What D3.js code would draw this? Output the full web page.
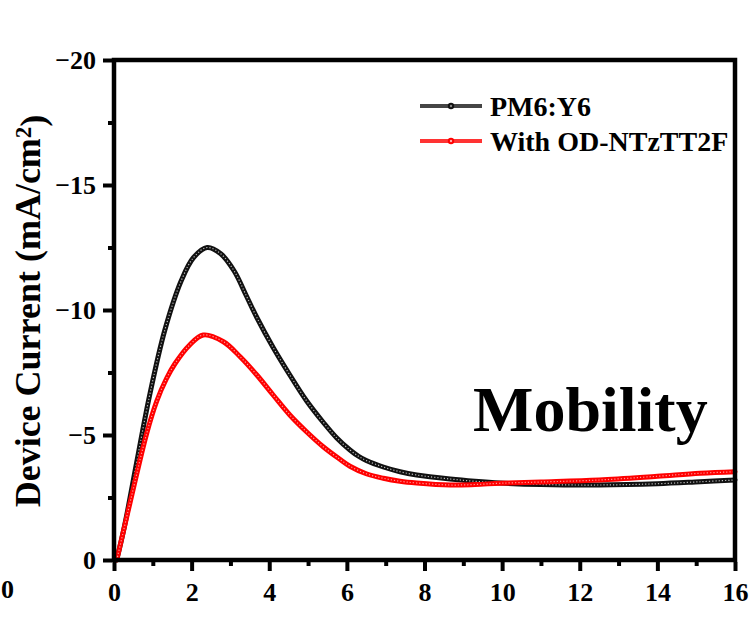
<!DOCTYPE html>
<html>
<head>
<meta charset="utf-8">
<script src="https://cdn.jsdelivr.net/npm/d3@7"></script>
<style>
  html, body { margin: 0; padding: 0; background: #fff; }
  svg { display: block; }
  text { font-family: "Liberation Serif", "Times New Roman", serif; font-weight: bold; fill: #000; }
</style>
</head>
<body>
<svg id="chart" width="749" height="618"></svg>
<script>
// ---- data ----
const seriesNames = ["PM6:Y6", "With OD-NTzTT2F"];
const seriesColors = ["#111111", "#ff0000"];
const legendColors = ["#454545", "#ff3333"];

const voltageA = [0.07, 0.27, 0.58, 0.91, 1.31, 1.74, 2.05, 2.4, 2.75, 3.1, 3.4, 3.68, 4.10, 4.53, 4.96, 5.39, 5.74, 6.08, 6.3, 6.5, 6.94, 7.37, 7.8, 8.66, 9.3, 9.95, 11, 12.5, 14, 15.1, 16];
const currentA = [0, -1.35, -3.87, -6.53, -9.2, -11.2, -12.1, -12.5, -12.25, -11.55, -10.6, -9.7, -8.5, -7.4, -6.37, -5.51, -4.88, -4.4, -4.15, -3.98, -3.72, -3.53, -3.4, -3.24, -3.15, -3.08, -3.02, -3.0, -3.05, -3.13, -3.2];

const voltageB = [0.07, 0.15, 0.46, 0.84, 1.10, 1.35, 1.57, 1.95, 2.3, 2.82, 3.25, 3.68, 4.10, 4.53, 4.96, 5.39, 5.8, 6.08, 6.5, 6.94, 7.37, 7.8, 8.66, 9.3, 9.95, 11, 12.5, 14, 15.1, 16];
const currentB = [0, -0.53, -2.6, -5.05, -6.35, -7.25, -7.85, -8.6, -9.0, -8.73, -8.13, -7.4, -6.6, -5.8, -5.13, -4.53, -4.05, -3.75, -3.45, -3.27, -3.15, -3.08, -3.0, -3.02, -3.07, -3.12, -3.2, -3.35, -3.47, -3.53];

const xTicks = [0, 2, 4, 6, 8, 10, 12, 14, 16];
const xMinorTicks = [1, 3, 5, 7, 9, 11, 13, 15];
const yTicks = [0, -5, -10, -15, -20];
const yMinorTicks = [-2.5, -7.5, -12.5, -17.5];
const yTitle = "Device Current (mA/cm";
const annotation = "Mobility";

// ---- layout ----
const svg = d3.select("#chart");
const L = 114, R = 735, T = 60, B = 560;
const x = d3.scaleLinear().domain([0, 16]).range([L, R]);
const y = d3.scaleLinear().domain([0, -20]).range([B, T]);

const fmt = d => d === 0 ? "0" : "\u2212" + Math.abs(d);

// curves
const series = [
  voltageA.map((v, i) => ({ v, c: currentA[i] })),
  voltageB.map((v, i) => ({ v, c: currentB[i] }))
];
const line = d3.line().x(d => x(d.v)).y(d => y(d.c)).curve(d3.curveCatmullRom.alpha(0.5));
const innerColors = ["#bdbdbd", "#ff9a9a"];
const gCurves = svg.append("g");
series.forEach((s, i) => {
  gCurves.append("path").datum(s).attr("d", line)
    .attr("fill", "none").attr("stroke", seriesColors[i]).attr("stroke-width", 5)
    .attr("stroke-linejoin", "round").attr("stroke-linecap", "round");
  gCurves.append("path").datum(s).attr("d", line)
    .attr("fill", "none").attr("stroke", innerColors[i]).attr("stroke-width", 1.2)
    .attr("stroke-dasharray", "1.2 2");
});

// axes
const tickW = 4;
const yAxis = d3.axisLeft(y).tickValues(yTicks).tickSize(9).tickPadding(7).tickFormat(fmt);
const gy = svg.append("g").attr("transform", `translate(${L - 2},0)`).call(yAxis);
gy.select(".domain").remove();
gy.selectAll(".tick line").attr("stroke", "#000").attr("stroke-width", tickW);
gy.selectAll(".tick text").style("font-size", "26px").style("font-family", "Liberation Serif").style("font-weight", "bold").attr("fill", "#000");
const gym = svg.append("g").attr("transform", `translate(${L - 2},0)`)
  .call(d3.axisLeft(y).tickValues(yMinorTicks).tickSize(4).tickFormat(""));
gym.select(".domain").remove();
gym.selectAll(".tick line").attr("stroke", "#000").attr("stroke-width", tickW);

const xAxis = d3.axisBottom(x).tickValues(xTicks).tickSize(9).tickPadding(12).tickFormat(d3.format("d"));
const gx = svg.append("g").attr("transform", `translate(0,${B + 2})`).call(xAxis);
gx.select(".domain").remove();
gx.selectAll(".tick line").attr("stroke", "#000").attr("stroke-width", tickW);
gx.selectAll(".tick text").style("font-size", "26px").style("font-family", "Liberation Serif").style("font-weight", "bold").attr("fill", "#000");
const gxm = svg.append("g").attr("transform", `translate(0,${B + 2})`)
  .call(d3.axisBottom(x).tickValues(xMinorTicks).tickSize(4).tickFormat(""));
gxm.select(".domain").remove();
gxm.selectAll(".tick line").attr("stroke", "#000").attr("stroke-width", tickW);

// frame
svg.append("rect").attr("x", L).attr("y", T).attr("width", R - L).attr("height", B - T)
  .attr("fill", "none").attr("stroke", "#000").attr("stroke-width", 4.5);

// label from neighbouring panel (partly cut in the reference)
svg.append("text").attr("x", 1).attr("y", 598).attr("text-anchor", "start")
  .style("font-size", "26px").text("0");

// y title
const yt = svg.append("text")
  .attr("transform", "translate(40,311) rotate(-90)")
  .attr("text-anchor", "middle")
  .style("font-size", "36px");
yt.append("tspan").text(yTitle);
yt.append("tspan").attr("dy", "-0.4em").style("font-size", "23px").text("2");
yt.append("tspan").attr("dy", "0.4em").text(")");

// annotation
svg.append("text").attr("x", 473).attr("y", 431).style("font-size", "64px").text(annotation);

// legend
const legY = [106, 141];
seriesNames.forEach((name, i) => {
  const g = svg.append("g");
  g.append("line").attr("x1", 420).attr("x2", 482).attr("y1", legY[i]).attr("y2", legY[i])
    .attr("stroke", legendColors[i]).attr("stroke-width", 4);
  g.append("circle").attr("cx", 451).attr("cy", legY[i]).attr("r", 3.2)
    .attr("fill", i === 0 ? "#111" : "#ff0000").attr("stroke", "none");
  g.append("circle").attr("cx", 451).attr("cy", legY[i]).attr("r", 1.2)
    .attr("fill", i === 0 ? "#888" : "#ffaaaa");
  g.append("text").attr("x", 490).attr("y", legY[i] + 10).style("font-size", "28px").text(name);
});
</script>
</body>
</html>
